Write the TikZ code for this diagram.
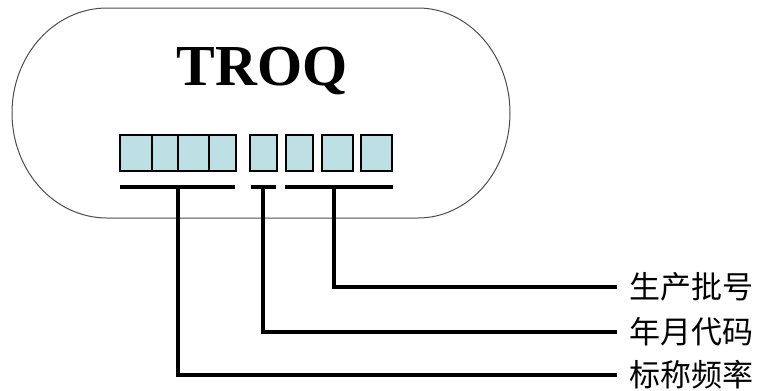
\documentclass[tikz,border=0pt]{standalone}
\usepackage{fontspec}
\setmainfont{Liberation Serif}
\newfontfamily\cjk{Noto Sans CJK SC}
\definecolor{cellfill}{RGB}{189,224,228}
\begin{document}
\begin{tikzpicture}[x=1pt, y=-1pt, line width=3.2pt,
    cell/.style={draw, fill=cellfill, line width=1.8pt, minimum height=36pt, inner sep=0pt},
    tag/.style={anchor=west, inner sep=0pt, font=\cjk\fontsize{31}{31}\selectfont}]
\useasboundingbox (0,0) rectangle (758,391);
% outline
\draw[black!70, line width=1pt] (107,8) -- (418,8)
    arc[start angle=-90, end angle=90, x radius=92, y radius=105] -- (107,218)
    arc[start angle=90, end angle=270, x radius=95, y radius=105] -- cycle;
\node[font=\bfseries\fontsize{58}{58}\selectfont, anchor=base] (brand) at (262,85) {TROQ};
% cells
\node[cell, minimum width=32pt] (c1) at (136,153) {};
\node[cell, minimum width=26pt] (c2) at (165,153) {};
\node[cell, minimum width=31pt] (c3) at (193.5,153) {};
\node[cell, minimum width=27pt] (c4) at (222.5,153) {};
\node[cell, minimum width=27pt] (c5) at (263.5,153) {};
\node[cell, minimum width=27pt] (c6) at (299.5,153) {};
\node[cell, minimum width=31pt] (c7) at (337.5,153) {};
\node[cell, minimum width=31pt] (c8) at (376.5,153) {};
% underlines
\coordinate (f1) at (120,187); \coordinate (f2) at (235,187);
\coordinate (d1) at (251,187); \coordinate (d2) at (276,187);
\coordinate (b1) at (285,187); \coordinate (b2) at (393,187);
\draw (f1) -- (f2); \draw (d1) -- (d2); \draw (b1) -- (b2);
\coordinate (tf) at (178,187);
\coordinate (td) at (263,187);
\coordinate (tb) at (334,187);
% labels
\node[tag] (batch) at (628,287) {生产批号};
\node[tag] (date) at (628,332) {年月代码};
\node[tag] (freq) at (628,375) {标称频率};
\draw[shorten >=11pt] (tb) |- (batch.west);
\draw[shorten >=11pt] (td) |- (date.west);
\draw[shorten >=11pt] (tf) |- (freq.west);
\end{tikzpicture}
\end{document}
